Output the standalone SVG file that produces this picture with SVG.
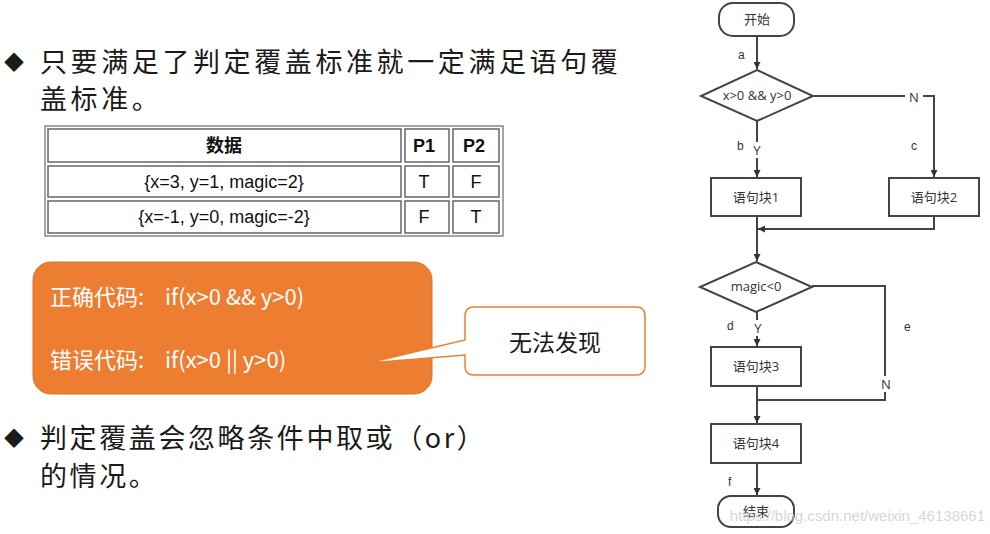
<svg xmlns="http://www.w3.org/2000/svg" width="990" height="534" viewBox="0 0 990 534">
<defs>
<marker id="ah" viewBox="0 0 10 10" refX="10" refY="5" markerWidth="7" markerHeight="7" markerUnits="userSpaceOnUse" orient="auto"><path d="M0,0 L10,5 L0,10 z" fill="#333"/></marker>
<style>
.t{font-family:"Noto Sans CJK SC","Noto Sans",sans-serif;fill:#1a1a1a}
.fc{font-family:"Open Sans","Noto Sans CJK SC",sans-serif;fill:#333;font-size:13px;text-anchor:middle}
.lb{font-family:"Liberation Sans",sans-serif;fill:#333;font-size:12px}
.box{fill:#fff;stroke:#444;stroke-width:2}
.ln{fill:none;stroke:#444;stroke-width:2}
.tb{font-family:"Liberation Sans","Noto Sans CJK SC",sans-serif;font-size:18px;fill:#111;text-anchor:middle}
.cell{fill:#fff;stroke:#666;stroke-width:1.5}
</style>
</defs>
<rect width="990" height="534" fill="#fff"/>
<g id="bullets">
<text class="t" x="4" y="70" font-size="20">◆</text>
<text class="t" x="40" y="72" font-size="27" letter-spacing="3.6">只要满足了判定覆盖标准就一定满足语句覆</text>
<text class="t" x="40" y="109" font-size="27" letter-spacing="3.6">盖标准。</text>
<text class="t" x="4" y="446" font-size="20">◆</text>
<text class="t" x="40" y="448" font-size="27" letter-spacing="2.6">判定覆盖会忽略条件中取或（or）</text>
<text class="t" x="40" y="486" font-size="27" letter-spacing="2.6">的情况。</text>
</g>
<g id="table">
<rect x="45" y="126" width="458" height="110" fill="none" stroke="#888" stroke-width="1.5"/>
<rect class="cell" x="48" y="129" width="353" height="33"/>
<rect class="cell" x="405" y="129" width="44" height="33"/>
<rect class="cell" x="453" y="129" width="46" height="33"/>
<rect class="cell" x="48" y="166" width="353" height="31"/>
<rect class="cell" x="405" y="166" width="44" height="31"/>
<rect class="cell" x="453" y="166" width="46" height="31"/>
<rect class="cell" x="48" y="201" width="353" height="32"/>
<rect class="cell" x="405" y="201" width="44" height="32"/>
<rect class="cell" x="453" y="201" width="46" height="32"/>
<text class="tb" x="224" y="152" font-weight="bold">数据</text>
<text class="tb" x="424" y="152" font-weight="bold">P1</text>
<text class="tb" x="474" y="152" font-weight="bold">P2</text>
<text class="tb" x="224" y="188">{x=3, y=1, magic=2}</text>
<text class="tb" x="424" y="188">T</text>
<text class="tb" x="476" y="188">F</text>
<text class="tb" x="224" y="223">{x=-1, y=0, magic=-2}</text>
<text class="tb" x="424" y="223">F</text>
<text class="tb" x="476" y="223">T</text>
</g>
<g id="codebox">
<rect x="33" y="262" width="399" height="132" rx="18" fill="#ed7d31" stroke="#e0702a"/>
<text class="t" x="50" y="305" font-size="22" style="fill:#fff">正确代码:<tspan x="165">if(x&gt;0 &amp;&amp; y&gt;0)</tspan></text>
<text class="t" x="50" y="368" font-size="22" style="fill:#fff">错误代码:<tspan x="165">if(x&gt;0 || y&gt;0)</tspan></text>
</g>
<g id="callout">
<path d="M474,307 H636 Q645,307 645,316 V366 Q645,375 636,375 H474 Q465,375 465,366 V355 L368,363 L465,340 V316 Q465,307 474,307 Z" fill="#fff" stroke="#ed7d31" stroke-width="1.5"/>
<text class="t" x="555" y="351" font-size="23" text-anchor="middle">无法发现</text>
</g>
<g id="connectors">
<line class="ln" x1="757" y1="36" x2="757" y2="69" marker-end="url(#ah)"/>
<line class="ln" x1="757" y1="121" x2="757" y2="177" marker-end="url(#ah)"/>
<polyline class="ln" points="813,96 934,96 934,177" marker-end="url(#ah)"/>
<line class="ln" x1="757" y1="216" x2="757" y2="261" marker-end="url(#ah)"/>
<polyline class="ln" points="934,216 934,229 758,229" marker-end="url(#ah)"/>
<line class="ln" x1="757" y1="312" x2="757" y2="346" marker-end="url(#ah)"/>
<polyline class="ln" points="812,286 885,286 885,400 757,400"/>
<line class="ln" x1="757" y1="386" x2="757" y2="423" marker-end="url(#ah)"/>
<line class="ln" x1="757" y1="463" x2="757" y2="495" marker-end="url(#ah)"/>
<rect x="905" y="89" width="18" height="16" fill="#fff"/>
<text class="fc" x="914" y="102">N</text>
<rect x="750" y="142" width="14" height="16" fill="#fff"/>
<text class="fc" x="757" y="155">Y</text>
<rect x="750" y="320" width="14" height="16" fill="#fff"/>
<text class="fc" x="758" y="333">Y</text>
<rect x="878" y="376" width="16" height="16" fill="#fff"/>
<text class="fc" x="886" y="389">N</text>
<text class="lb" x="738" y="59">a</text>
<text class="lb" x="737" y="150">b</text>
<text class="lb" x="911" y="150">c</text>
<text class="lb" x="727" y="330">d</text>
<text class="lb" x="904" y="331">e</text>
<text class="lb" x="728" y="486">f</text>
</g>
<g id="start"><rect class="box" x="719" y="3" width="75" height="33" rx="14"/><text class="fc" x="757" y="24">开始</text></g>
<g id="cond1"><polygon class="box" points="757,70 813,96 757,121 701,96"/><text class="fc" x="757" y="100">x&gt;0 &amp;&amp; y&gt;0</text></g>
<g id="block1"><rect class="box" x="711" y="178" width="90" height="38"/><text class="fc" x="756" y="202">语句块1</text></g>
<g id="block2"><rect class="box" x="889" y="178" width="90" height="38"/><text class="fc" x="934" y="202">语句块2</text></g>
<g id="cond2"><polygon class="box" points="756,262 812,287 756,312 700,287"/><text class="fc" x="756" y="291">magic&lt;0</text></g>
<g id="block3"><rect class="box" x="711" y="347" width="90" height="39"/><text class="fc" x="756" y="371">语句块3</text></g>
<g id="block4"><rect class="box" x="711" y="424" width="90" height="39"/><text class="fc" x="756" y="448">语句块4</text></g>
<g id="end"><rect class="box" x="718" y="496" width="76" height="31" rx="13"/><text class="fc" x="756" y="516">结束</text></g>
<text x="985" y="521" text-anchor="end" font-family="Liberation Sans,sans-serif" font-size="15" fill="#ccc" fill-opacity="0.8">https://blog.csdn.net/weixin_46138661</text>
</svg>
